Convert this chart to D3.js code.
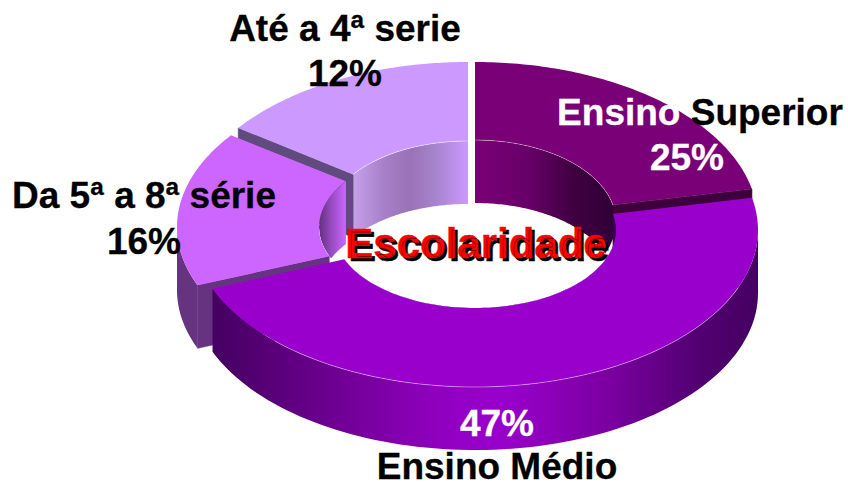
<!DOCTYPE html>
<html>
<head>
<meta charset="utf-8">
<script src="https://cdn.jsdelivr.net/npm/d3@7"></script>
<style>
html,body{margin:0;padding:0;background:#fff;overflow:hidden}
svg{display:block}
text{font-family:"Liberation Sans",Arial,sans-serif;font-weight:bold}
</style>
</head>
<body>
<svg id="c" width="848" height="483"></svg>
<script>
const categories = ["Ensino Superior", "Ensino Médio", "Da 5ª a 8ª série", "Até a 4ª serie"];
const percentLabels = [25, 47, 16, 12];
// angular share of each wedge as drawn in the perspective picture
const drawnShares = [21.7, 47.2, 16.1, 15.0];
const chartTitle = "Escolaridade";

// layout and styling
const depth = 63;
const geometry = [
  {cx:475, cy:222, rx:283, ry:160, irx:141, iry:82},
  {cx:475, cy:230, rx:283, ry:157, irx:141, iry:78},
  {cx:460, cy:227, rx:283, ry:156, irx:141, iry:78},
  {cx:468, cy:222, rx:284, ry:160, irx:142, iry:81}
];
const topColors = ["#7a0078", "#9900cc", "#cc66ff", "#cc99ff"];
const radialColors = ["#3d003d", null, "#663380", "#5f4b7d"];
const radialSide = ["end", null, "start", "start"];
const outerRim = [0, .5, 0, 0];
const innerRim = [.35, 0, 0, .45];
const outerStops = [
  [],
  [[213,"#440060"],[330,"#6c0090"],[440,"#9000c0"],[500,"#9900cc"],[610,"#7a00a0"],[690,"#550075"],[758,"#440060"]],
  [[177,"#663380"],[213,"#663380"]],
  []
];
const innerStops = [
  [[475,"#7a0078"],[530,"#660066"],[575,"#3f003f"],[617,"#2e0038"]],
  [[600,"#2e0050"],[618,"#3c0058"]],
  [[319,"#61307c"],[332,"#9a4cc4"],[346,"#cc66ff"]],
  [[353,"#c7a0ea"],[385,"#a57fc8"],[410,"#9a72b6"],[435,"#a684cc"],[468,"#cc99ff"]]
];
const drawOrder = [3, 2, 0, 1];

const svg = d3.select("#c");
const defs = svg.append("defs");
const arcs = d3.pie().sort(null).startAngle(0).endAngle(2 * Math.PI).value(d => d)(drawnShares);
const line = d3.line();

const pt = (cx, cy, rx, ry, t, dy = 0) => [cx + rx * Math.sin(t), cy - ry * Math.cos(t) + dy];
const sample = (a, b, f, n = 90) => d3.range(n + 1).map(i => f(a + (b - a) * i / n));
const closed = pts => line(pts) + "Z";

function gradient(id, stops) {
  const g = defs.append("linearGradient").attr("id", id)
    .attr("gradientUnits", "userSpaceOnUse")
    .attr("x1", stops[0][0]).attr("x2", stops[stops.length - 1][0]).attr("y1", 0).attr("y2", 0);
  const x0 = stops[0][0], x1 = stops[stops.length - 1][0];
  stops.forEach(s => g.append("stop").attr("offset", (s[0] - x0) / (x1 - x0)).attr("stop-color", s[1]));
  return `url(#${id})`;
}

drawOrder.forEach(i => {
  const g = geometry[i], a = arcs[i].startAngle, b = arcs[i].endAngle;
  const outer = t => pt(g.cx, g.cy, g.rx, g.ry, t);
  const inner = t => pt(g.cx, g.cy, g.irx, g.iry, t);
  const outerLow = t => pt(g.cx, g.cy, g.rx, g.ry, t, depth);
  const innerLow = t => pt(g.cx, g.cy, g.irx, g.iry, t, depth);
  const layer = svg.append("g").attr("class", "slice");

  // inner wall, clipped to the hole of this wedge
  defs.append("clipPath").attr("id", "hole" + i).append("ellipse")
    .attr("cx", g.cx).attr("cy", g.cy).attr("rx", g.irx).attr("ry", g.iry);
  layer.append("path")
    .attr("clip-path", `url(#hole${i})`)
    .attr("fill", gradient("inner" + i, innerStops[i]))
    .attr("d", closed(sample(a, b, inner).concat(sample(b, a, innerLow))));

  // visible cut face
  if (radialSide[i]) {
    const t = radialSide[i] === "start" ? a : b;
    layer.append("path").attr("fill", radialColors[i])
      .attr("stroke", radialColors[i]).attr("stroke-width", .6)
      .attr("d", closed([outer(t), inner(t), innerLow(t), outerLow(t)]));
  }

  // outer wall on the near half
  const wa = Math.max(a, Math.PI / 2), wb = Math.min(b, 3 * Math.PI / 2);
  if (wb > wa) {
    layer.append("path")
      .attr("fill", gradient("outer" + i, outerStops[i]))
      .attr("d", closed(sample(wa, wb, outer).concat(sample(wb, wa, outerLow))));
  }

  // top face
  layer.append("path").attr("fill", topColors[i])
    .attr("d", closed(sample(a, b, outer).concat(sample(b, a, inner))));

  // thin highlights along the rims
  if (outerRim[i]) layer.append("path").attr("fill", "none").attr("stroke", "#fff")
    .attr("stroke-opacity", outerRim[i]).attr("stroke-width", .8)
    .attr("d", line(sample(Math.max(a, Math.PI * .62), Math.min(b, Math.PI * 1.25), outer)));
  if (innerRim[i]) layer.append("path").attr("fill", "none").attr("stroke", "#fff")
    .attr("stroke-opacity", innerRim[i]).attr("stroke-width", .8)
    .attr("d", line(sample(a, b, inner)));
});

// labels
const label = (x, y, size, parts, weight = 0.3) => {
  const t = svg.append("text").attr("x", x).attr("y", y).attr("font-size", size)
    .attr("text-anchor", "middle");
  parts.forEach(p => t.append("tspan").attr("fill", p[1])
    .attr("stroke", p[1]).attr("stroke-width", weight).text(p[0]));
  return t;
};
const pct = v => v + "%";

label(345, 41, 37, [[categories[3], "#000"]]);
label(345, 86, 37, [[pct(percentLabels[3]), "#000"]]);
label(144, 208, 37, [[categories[2], "#000"]]);
label(144, 254, 37, [[pct(percentLabels[2]), "#000"]]);
const sup = categories[0].split(" ");
label(700, 125, 37, [[sup[0] + " ", "#fff"], [sup[1], "#000"]]);
label(687, 170, 37, [[pct(percentLabels[0]), "#fff"]]);
label(497, 436, 37, [[pct(percentLabels[1]), "#fff"]]);
label(497, 479, 37, [[categories[1], "#000"]]);

label(476, 258, 42, [[chartTitle, "#ff0000"]], 0.4)
  .style("text-shadow", "3px 3px 0 #000");
</script>
</body>
</html>
